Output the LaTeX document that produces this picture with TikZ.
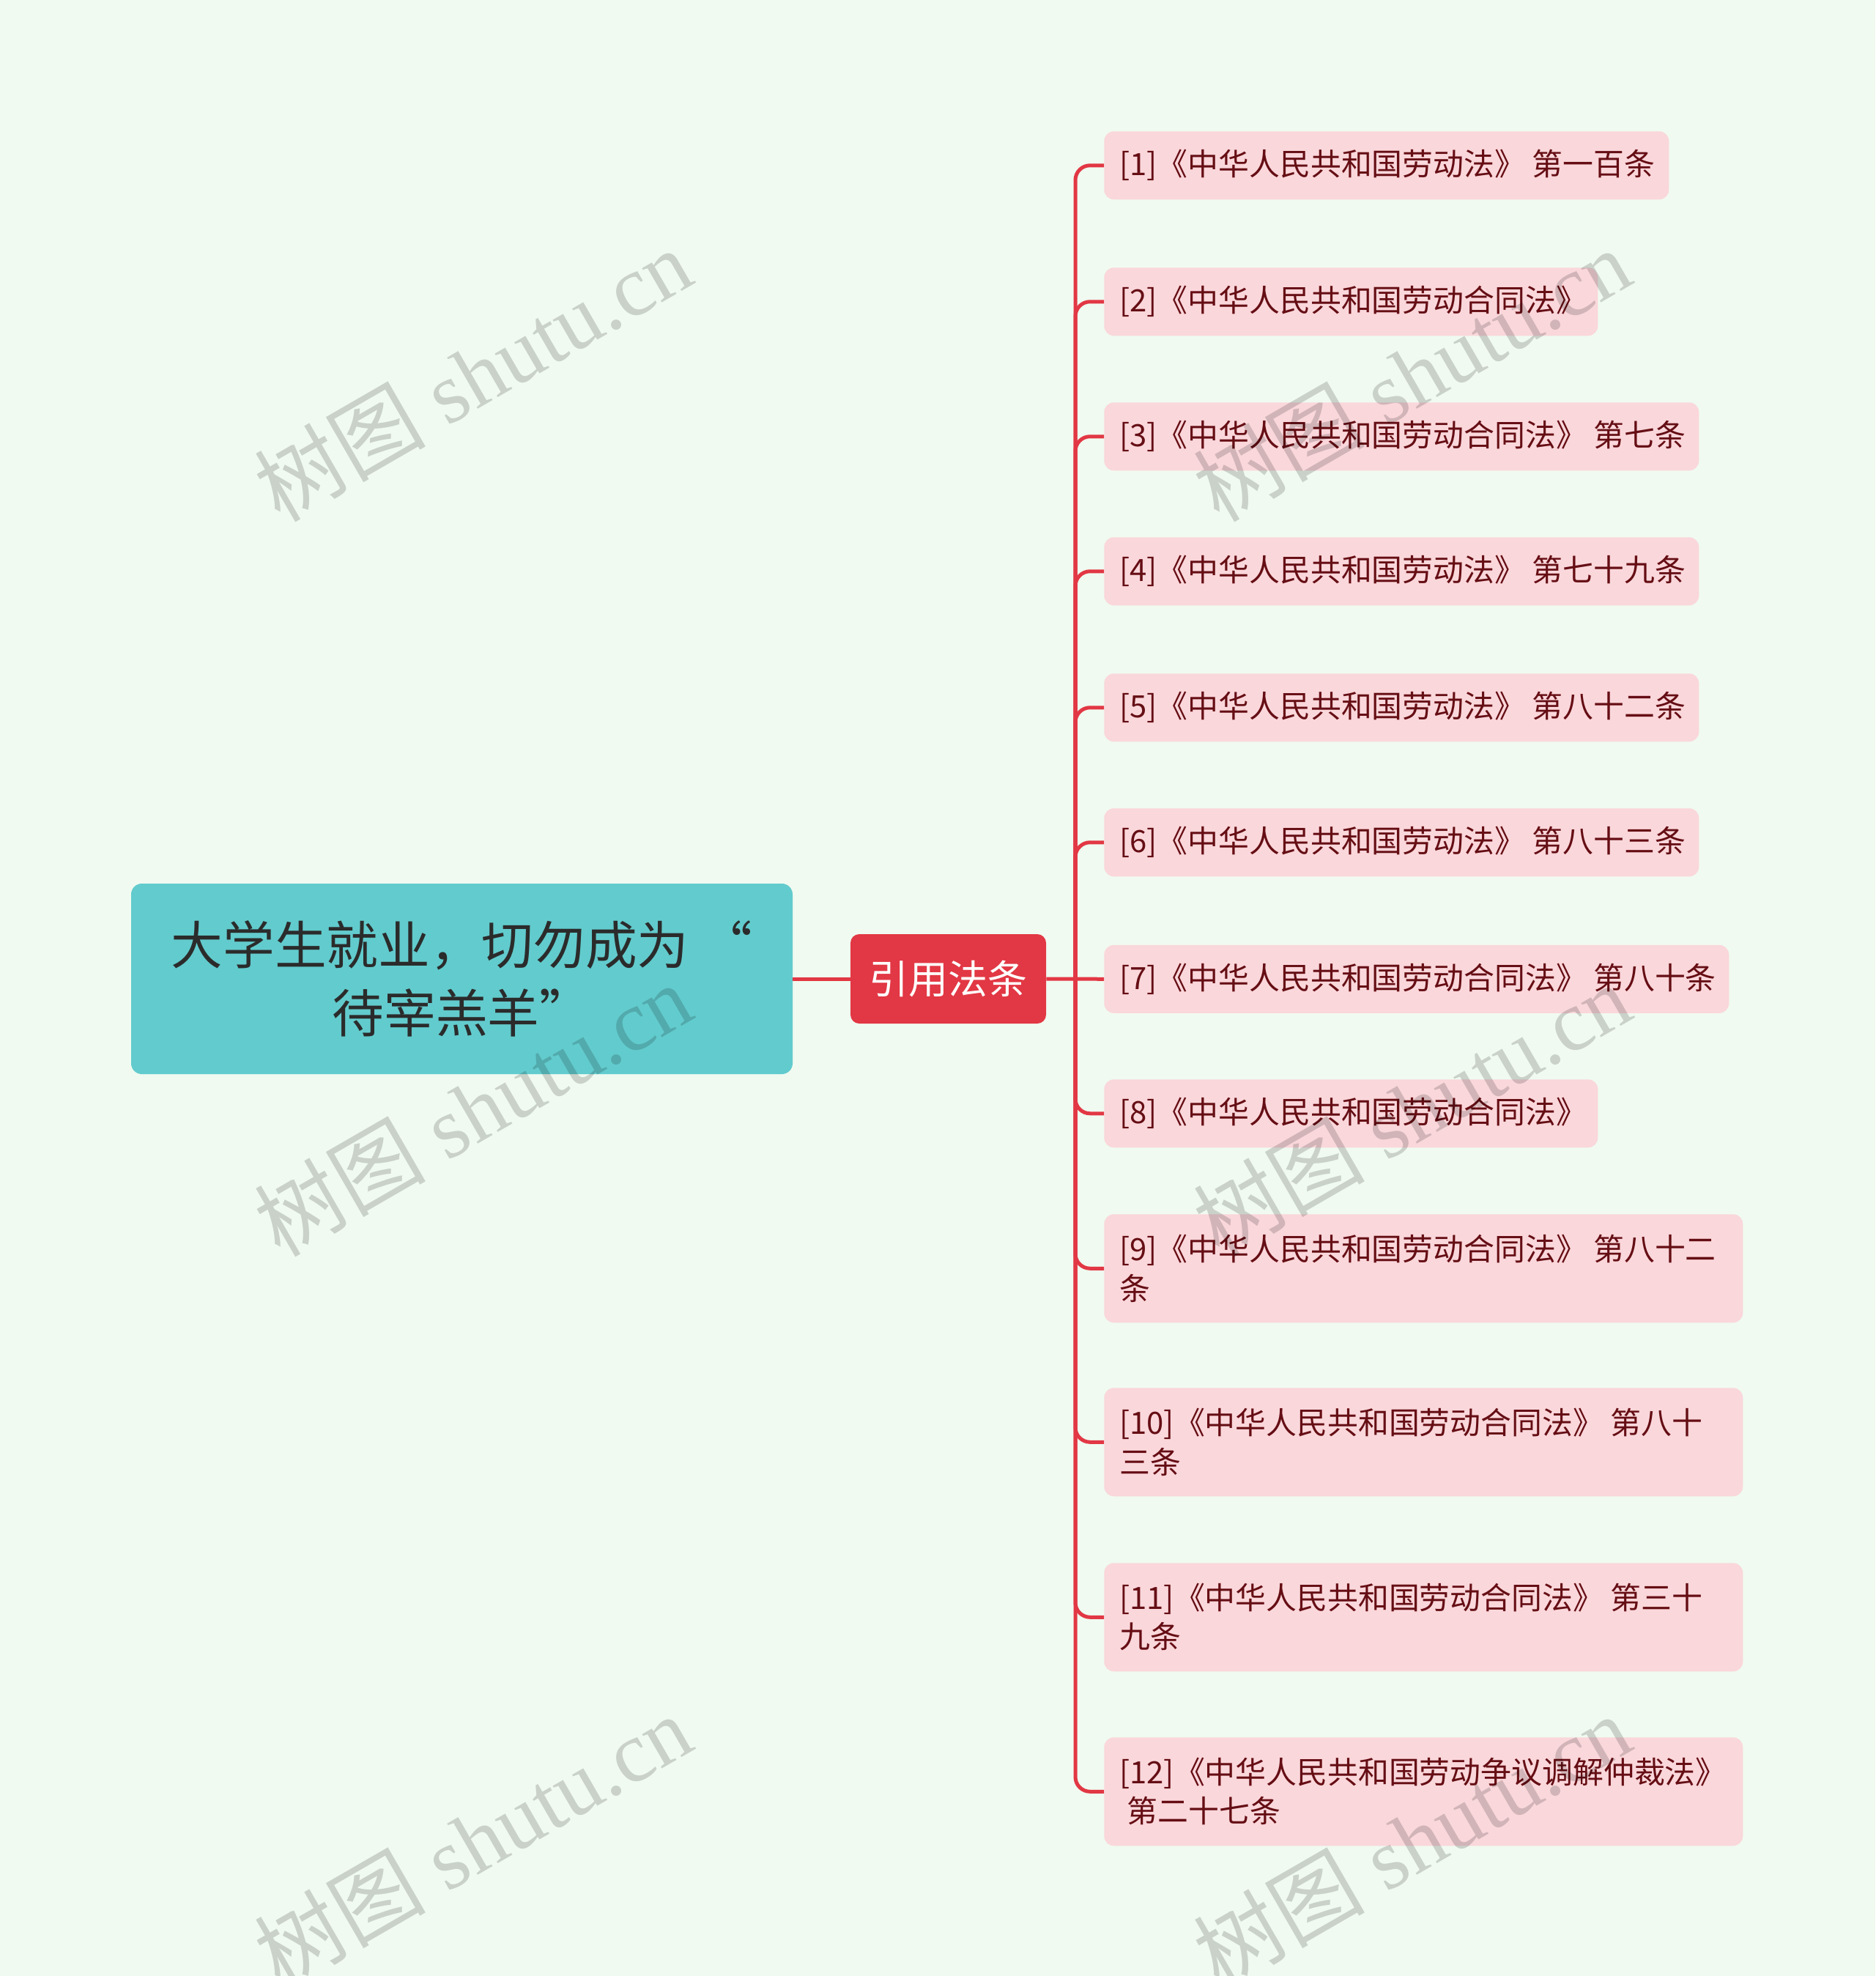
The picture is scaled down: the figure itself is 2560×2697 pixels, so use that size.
\documentclass[tikz,border=0pt]{standalone}
\usepackage{fontspec}
\newfontfamily\cjk{Noto Sans CJK SC}
\newfontfamily\wmserif{Liberation Serif}
\definecolor{bgc}{HTML}{F0FAF0}
\definecolor{rootfill}{HTML}{62CBCD}
\definecolor{roottext}{HTML}{2B2B2B}
\definecolor{redc}{HTML}{E23744}
\definecolor{leaffill}{HTML}{FAD7DB}
\definecolor{leaftext}{HTML}{650E14}
\begin{document}
\begin{tikzpicture}[x=0.75pt,y=-0.75pt,
  rootbox/.style={fill=rootfill, rounded corners=11pt, inner sep=0pt, align=center,
    text=roottext, font=\cjk\fontsize{53}{70}\selectfont},
  redbox/.style={fill=redc, rounded corners=9pt, inner sep=0pt, text=white,
    font=\cjk\fontsize{40.5}{48}\selectfont},
  leafbox/.style={fill=leaffill, rounded corners=10pt, inner sep=0pt, anchor=north west},
  leaftxt/.style={anchor=west, inner sep=0pt, align=left, text=leaftext,
    font=\cjk\fontsize{31.4}{40}\selectfont},
  conn/.style={draw=redc, line width=3.75pt, rounded corners=15pt},
  wm/.style={text=black, text opacity=0.16, font=\wmserif\fontsize{88}{88}\selectfont, inner sep=0pt}
]
\fill[bgc] (0,0) rectangle (2560,2697);
\useasboundingbox (0,0) rectangle (2560,2697);

\node[rootbox, minimum width=677.25pt, minimum height=195pt] (root) at (630.5,1336)
  {大学生就业，切勿成为 “\\待宰羔羊”};
\node[redbox, minimum width=200.25pt, minimum height=91.5pt] (red) at (1294.5,1336) {引用法条};

\node[leafbox, minimum width=578.25pt, minimum height=69.75pt] (l1) at (1507,179) {};
\node[leafbox, minimum width=505.5pt, minimum height=69.75pt] (l2) at (1507,365) {};
\node[leafbox, minimum width=609pt, minimum height=69.75pt] (l3) at (1507,549) {};
\node[leafbox, minimum width=609pt, minimum height=69.75pt] (l4) at (1507,733) {};
\node[leafbox, minimum width=609pt, minimum height=69.75pt] (l5) at (1507,919) {};
\node[leafbox, minimum width=609pt, minimum height=69.75pt] (l6) at (1507,1103) {};
\node[leafbox, minimum width=639.75pt, minimum height=69.75pt] (l7) at (1507,1289.5) {};
\node[leafbox, minimum width=505.5pt, minimum height=69.75pt] (l8) at (1507,1473) {};
\node[leafbox, minimum width=654pt, minimum height=111pt] (l9) at (1507,1657) {};
\node[leafbox, minimum width=654pt, minimum height=111pt] (l10) at (1507,1894) {};
\node[leafbox, minimum width=654pt, minimum height=111pt] (l11) at (1507,2133) {};
\node[leafbox, minimum width=654pt, minimum height=111pt] (l12) at (1507,2371) {};

\node[leaftxt] (t1) at ([xshift=15.75pt]l1.west) {[1]《中华人民共和国劳动法》 第一百条};
\node[leaftxt] (t2) at ([xshift=15.75pt]l2.west) {[2]《中华人民共和国劳动合同法》};
\node[leaftxt] (t3) at ([xshift=15.75pt]l3.west) {[3]《中华人民共和国劳动合同法》 第七条};
\node[leaftxt] (t4) at ([xshift=15.75pt]l4.west) {[4]《中华人民共和国劳动法》 第七十九条};
\node[leaftxt] (t5) at ([xshift=15.75pt]l5.west) {[5]《中华人民共和国劳动法》 第八十二条};
\node[leaftxt] (t6) at ([xshift=15.75pt]l6.west) {[6]《中华人民共和国劳动法》 第八十三条};
\node[leaftxt] (t7) at ([xshift=15.75pt]l7.west) {[7]《中华人民共和国劳动合同法》 第八十条};
\node[leaftxt] (t8) at ([xshift=15.75pt]l8.west) {[8]《中华人民共和国劳动合同法》};
\node[leaftxt] (t9) at ([xshift=15.75pt]l9.west) {[9]《中华人民共和国劳动合同法》 第八十二\\条};
\node[leaftxt] (t10) at ([xshift=15.75pt]l10.west) {[10]《中华人民共和国劳动合同法》 第八十\\三条};
\node[leaftxt] (t11) at ([xshift=15.75pt]l11.west) {[11]《中华人民共和国劳动合同法》 第三十\\九条};
\node[leaftxt] (t12) at ([xshift=15.75pt]l12.west) {[12]《中华人民共和国劳动争议调解仲裁法》\\\hspace*{0.25em}第二十七条};

\coordinate (trunk) at (1468,1336);
\draw[conn] (root.east) -- (red.west);
\draw[conn] (red.east) -- (l7.west);
\foreach \i in {1,2,3,4,5,6,8,9,10,11,12}
  \draw[conn] (trunk) |- (l\i.west);

\foreach \p [count=\k] in {(645,511),(1927,511),(645,1514),(1927,1514),(645,2512),(1927,2512)}
  \node[wm, rotate=30] (wm\k) at \p {{\cjk 树图} shutu.cn};
\end{tikzpicture}
\end{document}
